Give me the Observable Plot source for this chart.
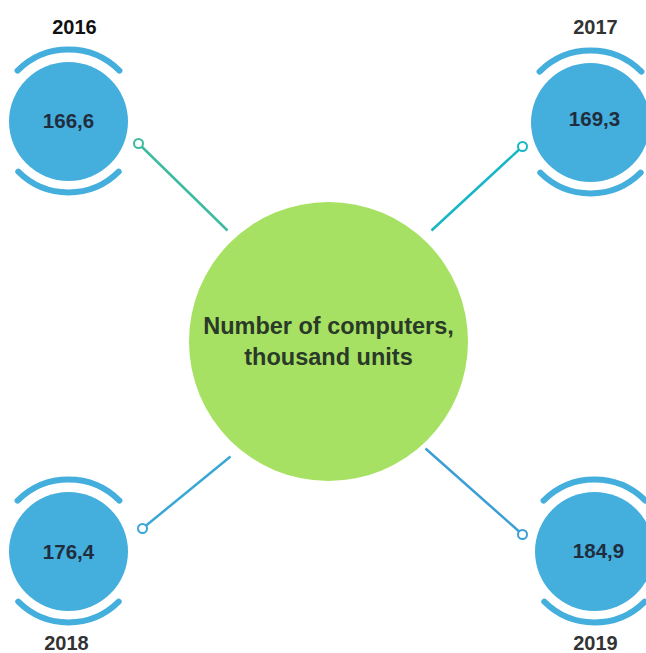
<!DOCTYPE html>
<html>
<head>
<meta charset="utf-8">
<script src="https://cdn.jsdelivr.net/npm/d3@7"></script>
<script src="https://cdn.jsdelivr.net/npm/@observablehq/plot@0.6"></script>
<style>
  html, body { margin: 0; padding: 0; background: #fff; }
  #chart svg { display: block; }
</style>
</head>
<body>
<div id="chart"></div>
<script>
// ---- data ----
const years = ["2016", "2017", "2018", "2019"];
const values = [166.6, 169.3, 176.4, 184.9];
const centerLabel = ["Number of computers,", "thousand units"];

// ---- layout (pixel positions, identity scales) ----
const bubbleX = [68, 590, 68, 594];
const bubbleY = [121, 122, 551, 551];
const valueX = [68, 594, 68, 598];
const valueY = [121, 119, 552, 551];
const yearX = [74, 595, 66, 595];
const yearY = [27, 27, 643, 643];
const linkX1 = [138, 522, 142, 522];
const linkY1 = [143, 146, 528, 534];
const linkX2 = [227, 431, 230, 425];
const linkY2 = [230, 230, 456, 448];
const linkColors = ["#3dbb9e", "#17b6c6", "#3aa7d7", "#3b9fd6"];
const yearColors = ["#111111", "#333333", "#333333", "#333333"];
const centerX = 328, centerY = 341;

const rows = years.map((year, i) => ({
  year, value: values[i],
  bx: bubbleX[i], by: bubbleY[i],
  vx: valueX[i], vy: valueY[i],
  yx: yearX[i], yy: yearY[i],
  x1: linkX1[i], y1: linkY1[i], x2: linkX2[i], y2: linkY2[i],
  lc: linkColors[i], yc: yearColors[i]
}));

const fmt = v => v.toFixed(1).replace(".", ",");

// custom arc symbols (radius derived from size = r*r*PI)
const topArc = {
  draw(ctx, size) {
    const R = Math.sqrt(size / Math.PI);
    ctx.arc(0, 0, R, -Math.PI * 0.75, -Math.PI * 0.25);
  }
};
const bottomArc = {
  draw(ctx, size) {
    const R = Math.sqrt(size / Math.PI);
    ctx.arc(0, 0, R, Math.PI * 0.25, Math.PI * 0.75);
  }
};

const blue = "#44aedd";
const green = "#a7e163";
const font = "Liberation Sans, Arial, sans-serif";

const chart = Plot.plot({
  width: 646,
  height: 653,
  margin: 0,
  x: { type: "identity", axis: null },
  y: { type: "identity", axis: null },
  style: { fontFamily: font, background: "#fff" },
  marks: [
    Plot.link(rows, {
      x1: "x1", y1: "y1", x2: "x2", y2: "y2",
      stroke: "lc", strokeWidth: 2.5
    }),
    Plot.dot(rows, {
      x: "x1", y: "y1", r: 4.5, fill: "white", stroke: "lc", strokeWidth: 2
    }),
    Plot.dot([{x: centerX, y: centerY}], {
      x: "x", y: "y", r: 139.5, fill: green, stroke: "none"
    }),
    Plot.dot(rows, {
      x: "bx", y: "by", r: 59.5, fill: blue, stroke: "none"
    }),
    Plot.dot(rows, {
      x: "bx", y: "by", r: 72, symbol: topArc, fill: "none",
      stroke: blue, strokeWidth: 6, strokeLinecap: "round"
    }),
    Plot.dot(rows, {
      x: "bx", y: "by", r: 71, symbol: bottomArc, fill: "none",
      stroke: blue, strokeWidth: 6, strokeLinecap: "round"
    }),
    Plot.text(rows, {
      x: "vx", y: "vy", text: d => fmt(d.value),
      fontSize: 20.5, fontWeight: "bold", fill: "#1f2d3d", textAnchor: "middle"
    }),
    Plot.text(rows, {
      x: "yx", y: "yy", text: "year",
      fontSize: 20, fontWeight: "bold", fill: "yc", textAnchor: "middle"
    }),
    Plot.text(centerLabel, {
      x: centerX, y: (d, i) => 326 + i * 31, text: d => d,
      fontSize: 23.5, fontWeight: "bold", fill: "#2a3a28", textAnchor: "middle"
    })
  ]
});
document.getElementById("chart").appendChild(chart);
</script>
</body>
</html>
